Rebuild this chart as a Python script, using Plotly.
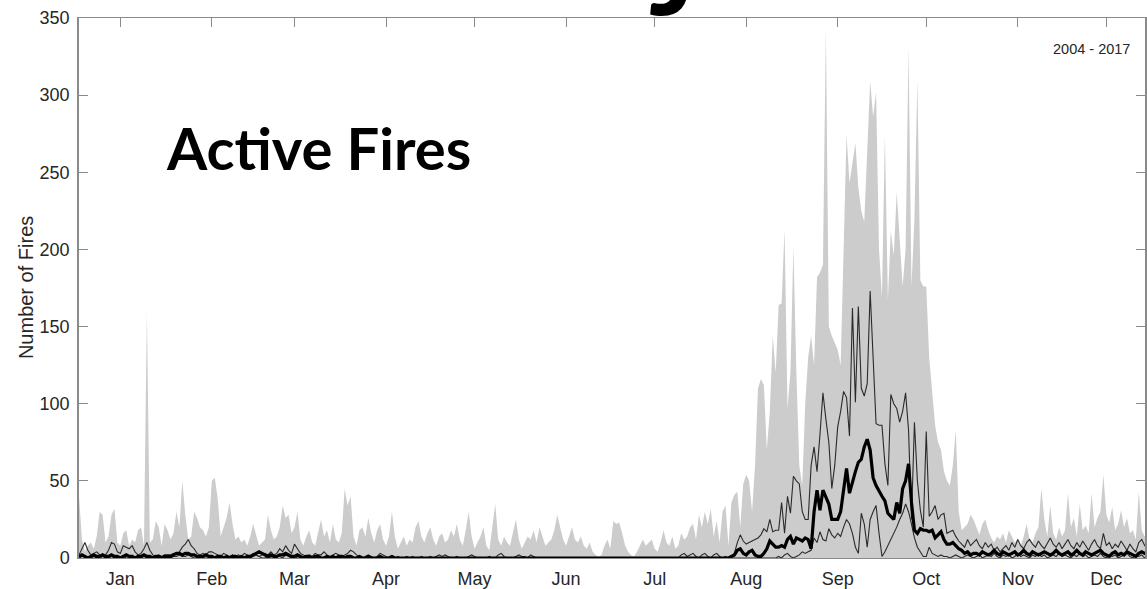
import plotly.graph_objects as go

# ---------------- data (daily values, day-of-year 1..365) ----------------
max_fires = [
    # Jan
    40,12,4,8,10,6,14,30,28,10,14,28,32,10,8,16,18,8,12,10,18,20,8,159,10,12,24,20,8,22,18,
    # Feb
    12,16,30,20,50,28,12,14,30,26,20,18,14,20,50,52,38,14,20,26,36,22,12,14,10,12,8,14,
    # Mar
    22,14,8,10,12,28,18,12,14,20,34,26,28,16,20,30,12,8,14,18,10,8,16,25,14,18,10,22,12,10,16,
    # Apr
    45,34,40,14,8,18,20,14,26,16,10,18,22,12,8,14,30,14,6,10,14,8,12,10,20,24,14,10,16,20,
    # May
    12,8,14,16,10,12,18,14,22,12,8,18,30,14,6,10,14,20,8,5,22,35,12,8,14,10,8,16,25,12,6,
    # Jun
    10,14,12,18,10,20,14,8,10,12,18,28,20,12,8,14,20,12,10,14,8,6,10,4,2,1,2,8,12,6,
    # Jul
    24,22,23,16,8,4,2,1,4,8,12,8,10,12,6,4,10,18,10,8,14,6,8,16,12,14,20,22,12,28,20,
    # Aug
    30,22,32,14,24,10,30,34,8,36,41,43,20,48,54,50,30,60,110,116,112,70,95,144,120,164,165,213,97,120,202,
    # Sep
    120,60,47,100,130,144,125,182,185,190,343,150,144,140,135,125,200,274,243,255,
    269,240,225,218,260,309,286,302,200,169,
    # Oct
    274,167,212,196,237,205,176,200,331,176,220,310,180,176,176,130,110,86,75,70,
    56,50,47,60,83,30,18,20,22,28,25,
    # Nov
    20,15,22,25,18,13,10,14,12,16,10,18,14,10,12,8,14,22,12,10,16,20,45,25,14,34,16,12,20,14,
    # Dec
    18,42,20,26,14,35,18,21,16,42,20,26,30,54,28,23,33,18,22,31,20,26,16,18,12,43,18,14,20,12,16,
]

median_fires = [
    # Jan
    1,2,1,0,1,2,1,1,2,1,1,2,1,1,0,1,2,1,1,0,1,1,2,1,1,0,1,1,0,1,1,
    # Feb
    1,2,3,3,2,3,3,2,2,1,1,1,2,1,1,0,1,1,0,1,0,1,1,0,1,0,1,1,
    # Mar
    2,3,4,3,2,1,2,1,1,2,2,3,2,1,1,2,1,0,1,1,0,1,1,0,0,1,0,1,0,1,1,
    # Apr
    0,1,1,0,0,1,0,0,1,0,0,0,1,0,0,0,1,0,0,0,0,0,0,0,0,0,0,0,0,0,
    # May
    0,0,0,0,0,0,0,0,0,0,0,0,0,0,0,0,0,0,0,0,0,0,0,0,0,0,0,0,0,0,0,
    # Jun
    0,0,0,0,0,0,0,0,0,0,0,0,0,0,0,0,0,0,0,0,0,0,0,0,0,0,0,0,0,0,
    # Jul
    0,0,0,0,0,0,0,0,0,0,0,0,0,0,0,0,0,0,0,0,0,0,0,0,0,0,0,0,0,0,0,
    # Aug
    0,0,0,0,0,0,0,0,0,1,2,5,6,3,2,4,5,2,1,1,3,6,11,9,7,7,8,7,12,14,9,
    # Sep
    13,12,11,13,12,6,30,44,31,44,40,35,25,25,25,30,45,58,42,50,56,62,64,72,77,70,52,47,43,40,
    # Oct
    37,29,27,25,36,29,45,50,61,36,18,16,19,18,18,17,18,13,15,17,12,9,9,10,8,6,5,3,4,2,3,
    # Nov
    3,2,4,3,2,3,5,3,2,4,3,2,3,4,2,3,5,3,2,4,3,2,3,4,3,2,3,5,3,2,
    # Dec
    3,4,2,3,5,3,2,4,3,2,3,4,5,3,2,1,3,4,2,3,2,4,3,2,1,3,4,3,2,3,4,
]

upper_fires = [
    # Jan
    2,6,10,5,2,3,4,2,1,2,5,10,9,4,3,8,7,6,8,4,2,3,6,10,5,2,1,2,1,2,2,
    # Feb
    2,3,2,4,7,9,12,8,6,3,2,3,2,4,4,3,2,1,3,2,1,2,1,2,1,3,2,1,
    # Mar
    3,2,1,2,3,2,4,2,3,6,4,8,5,3,9,6,3,2,1,2,1,3,2,2,4,2,1,2,3,2,1,
    # Apr
    2,3,5,4,2,1,0,1,2,1,0,1,3,2,1,0,1,0,1,0,0,1,0,1,0,0,1,0,0,1,
    # May
    0,1,2,1,2,1,0,0,1,0,0,0,1,2,1,0,0,0,0,1,0,0,2,3,1,0,0,0,1,2,1,
    # Jun
    1,0,2,1,0,0,0,0,0,0,0,0,0,0,0,0,0,0,0,0,0,0,0,0,0,0,0,0,0,0,
    # Jul
    0,0,0,0,0,0,0,0,0,0,0,0,0,0,0,0,0,0,0,0,0,0,0,2,3,1,2,3,1,0,2,
    # Aug
    3,1,0,2,3,1,0,1,0,1,3,10,15,11,9,10,11,12,13,15,19,17,25,17,18,18,36,16,40,29,53,
    # Sep
    50,48,30,25,25,60,72,56,80,107,90,75,45,60,85,95,108,104,79,162,
    101,163,110,105,113,173,130,87,86,86,
    # Oct
    61,47,106,100,97,88,95,107,83,25,88,50,31,20,82,27,30,34,25,28,
    29,16,17,18,14,11,9,7,12,8,10,
    # Nov
    12,8,6,10,7,9,5,7,4,6,8,5,10,7,12,8,6,10,12,9,7,11,8,6,10,13,9,7,10,6,
    # Dec
    9,12,8,6,10,7,11,8,5,9,12,8,6,16,8,10,6,9,7,11,8,5,9,6,4,10,12,8,10,9,11,
]

lower_fires = [
    # Jan
    0,1,1,0,0,1,0,0,1,0,0,1,0,0,0,1,0,0,1,0,0,0,1,0,0,0,1,0,0,0,1,
    # Feb
    0,1,1,2,1,1,2,1,0,0,1,0,0,0,1,0,0,0,0,1,0,0,0,0,1,0,0,0,
    # Mar
    1,2,1,0,0,1,0,0,1,1,0,2,1,0,1,0,0,0,0,1,0,0,0,0,0,1,0,0,0,0,0,
    # Apr
    0,0,0,0,0,0,0,0,0,0,0,0,0,0,0,0,0,0,0,0,0,0,0,0,0,0,0,0,0,0,
    # May
    0,0,0,0,0,0,0,0,0,0,0,0,0,0,0,0,0,0,0,0,0,0,0,0,0,0,0,0,0,0,0,
    # Jun
    0,0,0,0,0,0,0,0,0,0,0,0,0,0,0,0,0,0,0,0,0,0,0,0,0,0,0,0,0,0,
    # Jul
    0,0,0,0,0,0,0,0,0,0,0,0,0,0,0,0,0,0,0,0,0,0,0,0,0,0,0,0,0,0,0,
    # Aug
    0,0,0,0,0,0,0,0,0,0,0,0,0,0,0,0,0,0,0,0,0,0,0,0,0,1,0,2,3,1,0,
    # Sep
    1,2,4,3,4,5,13,10,17,12,11,19,15,13,16,14,20,25,22,16,7,3,29,22,7,25,30,34,16,1,
    # Oct
    4,8,11,15,20,25,29,35,30,22,13,7,4,1,1,7,3,2,1,2,1,1,0,1,2,1,0,1,2,1,0,
    # Nov
    1,2,0,1,2,1,3,1,0,2,1,2,0,1,3,1,2,1,0,2,1,3,1,2,0,1,2,1,3,1,
    # Dec
    2,1,0,2,1,3,1,2,0,1,2,1,3,1,0,2,1,2,0,1,2,3,1,0,2,1,2,0,1,2,1,
]

days = list(range(1, 366))
month_labels = ["Jan", "Feb", "Mar", "Apr", "May", "Jun",
                "Jul", "Aug", "Sep", "Oct", "Nov", "Dec"]
month_mid_days = [15, 46, 74, 105, 135, 166, 196, 227, 258, 288, 319, 349]
y_ticks = [0, 50, 100, 150, 200, 250, 300, 350]

for s in (max_fires, median_fires, upper_fires, lower_fires):
    assert len(s) == 365, len(s)

# ---------------- figure ----------------
AX = "#8a8a8a"
TXT = "#262626"
fig = go.Figure()

fig.add_trace(go.Scatter(x=days, y=max_fires, mode="lines", fill="tozeroy",
                         line=dict(width=0, color="#cccccc"),
                         fillcolor="#cccccc", hoverinfo="skip", showlegend=False))
fig.add_trace(go.Scatter(x=days, y=upper_fires, mode="lines",
                         line=dict(width=1.1, color="#2a2a2a"), showlegend=False))
fig.add_trace(go.Scatter(x=days, y=lower_fires, mode="lines",
                         line=dict(width=1.1, color="#2a2a2a"), showlegend=False))
fig.add_trace(go.Scatter(x=days, y=median_fires, mode="lines",
                         line=dict(width=3.2, color="#000000"), showlegend=False))
# invisible helper so the top axis is drawn
fig.add_trace(go.Scatter(x=[days[0]], y=[0], xaxis="x2", mode="markers",
                         marker=dict(opacity=0), hoverinfo="skip", showlegend=False))

fig.update_layout(
    width=1147, height=589,
    margin=dict(l=79, r=0, t=18, b=31, pad=0),
    plot_bgcolor="white", paper_bgcolor="white",
    font=dict(family="Liberation Sans, Arial, sans-serif", color=TXT),
    xaxis=dict(range=[1, 362.1], tickvals=month_mid_days, ticktext=month_labels,
               ticks="", showline=True, linecolor=AX, linewidth=1,
               showgrid=False, zeroline=False, tickfont=dict(size=18, color=TXT),
               ticklabelstandoff=4),
    xaxis2=dict(matches="x", overlaying="x", side="top", tickvals=month_mid_days,
                showticklabels=False, ticks="inside", ticklen=9, tickcolor=AX,
                showline=True, linecolor=AX, linewidth=1, showgrid=False,
                zeroline=False),
    yaxis=dict(range=[0, 350], tickvals=y_ticks, ticks="inside", ticklen=9,
               tickcolor=AX, showline=True, linecolor=AX, linewidth=1.5,
               mirror="ticks", showgrid=False, zeroline=False,
               tickfont=dict(size=18, color=TXT), ticklabelstandoff=4),
    annotations=[
        dict(text="Active Fires", xref="paper", yref="paper",
             x=(164 - 79) / 1068, y=1 - (148 - 18) / 540,
             xanchor="left", yanchor="middle", showarrow=False,
             font=dict(family="Lato", size=58, color="black", weight="bold")),
        dict(text="2004 - 2017", xref="paper", yref="paper",
             x=(1093 - 79) / 1068, y=1 - (49 - 18) / 540,
             xanchor="center", yanchor="middle", showarrow=False,
             font=dict(size=14.5, color=TXT)),
        dict(text="Number of Fires", xref="paper", yref="paper",
             x=(26 - 79) / 1068, y=0.5, textangle=-90,
             xanchor="center", yanchor="middle", showarrow=False,
             font=dict(size=20, color=TXT)),
        dict(text="J", xref="paper", yref="paper",
             x=(674 - 79) / 1068, y=1 + 6 / 540,
             xanchor="center", yanchor="bottom", yshift=-28, showarrow=False,
             font=dict(family="Lato", size=110, color="black", weight="bold")),
    ],
)

fig.write_html("out.html")
